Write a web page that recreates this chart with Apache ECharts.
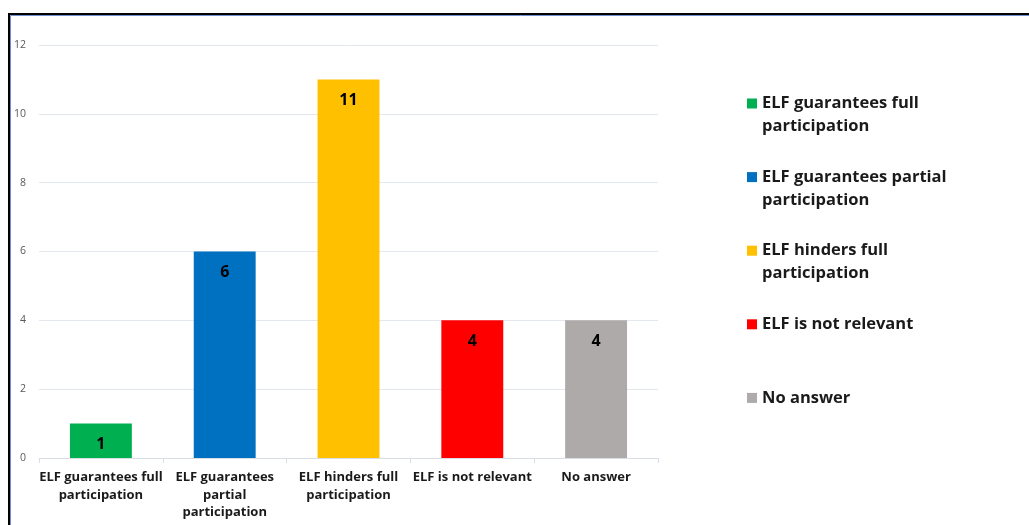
<!DOCTYPE html>
<html>
<head>
<meta charset="utf-8">
<script src="https://cdn.jsdelivr.net/npm/echarts@6/dist/echarts.min.js"></script>
<style>
  html, body { margin: 0; padding: 0; background: #ffffff; }
  #chart { width: 1029px; height: 525px; }
</style>
</head>
<body>
<div id="chart"></div>
<script>
// Survey answers: how the ELF affects participation
const categories = [
  'ELF guarantees full participation',
  'ELF guarantees partial participation',
  'ELF hinders full participation',
  'ELF is not relevant',
  'No answer'
];
const values = [1, 6, 11, 4, 4];
const colors = ['#00b050', '#0070c0', '#ffc000', '#ff0000', '#aeaaaa'];

// Wrapped text under the x axis
const axisLabels = [
  'ELF guarantees full\nparticipation',
  'ELF guarantees\npartial\nparticipation',
  'ELF hinders full\nparticipation',
  'ELF is not relevant',
  'No answer'
];
// Wrapped text in the legend
const legendLabels = [
  'ELF guarantees full\nparticipation',
  'ELF guarantees partial\nparticipation',
  'ELF hinders full\nparticipation',
  'ELF is not relevant',
  'No answer'
];
const yTicks = { min: 0, max: 12, interval: 2 };

const FONT = '"Open Sans", Lato, sans-serif';

// Legend text is centred on its swatch; pad every entry to three lines with a
// blank line on top so the swatch sits beside the first line of text.
function legendText(name) {
  const lines = legendLabels[categories.indexOf(name)].split('\n');
  while (lines.length < 2) lines.push(' ');
  return [' '].concat(lines).join('\n');
}

// One series per category so each gets a legend entry; they share the same slot.
const series = categories.map((name, i) => ({
  name: name,
  type: 'bar',
  barWidth: '50%',
  barGap: '-100%',
  itemStyle: { color: colors[i] },
  label: {
    show: true,
    position: 'insideTop',
    distance: 13,
    color: '#000000',
    fontFamily: FONT,
    fontWeight: 'bold',
    fontSize: 16
  },
  data: values.map((v, j) => (j === i ? v : '-'))
}));

const chart = echarts.init(document.getElementById('chart'), null, { renderer: 'canvas' });
chart.setOption({
  animation: false,
  backgroundColor: '#ffffff',
  graphic: [
    {
      type: 'rect',
      shape: { x: 9, y: 14, width: 1200, height: 700 },
      style: { fill: null, stroke: '#000000', lineWidth: 2 },
      silent: true
    },
    {
      type: 'rect',
      shape: { x: 10.5, y: 15.5, width: 1200, height: 700 },
      style: { fill: null, stroke: '#6f8fd0', lineWidth: 1 },
      silent: true
    }
  ],
  grid: { left: 39, right: 371, top: 45, bottom: 67, containLabel: false },
  legend: {
    orient: 'vertical',
    left: 747,
    top: 69,
    padding: 0,
    itemWidth: 10,
    itemHeight: 10,
    itemGap: 4.6,
    icon: 'rect',
    data: categories,
    formatter: legendText,
    textStyle: {
      color: '#1a1a1a',
      fontFamily: FONT,
      fontWeight: 'bold',
      fontSize: 16.5,
      lineHeight: 23
    }
  },
  xAxis: {
    type: 'category',
    data: categories,
    axisLine: { lineStyle: { color: '#d9dee7', width: 1 } },
    axisTick: { show: true, length: 5, lineStyle: { color: '#d9dee7' } },
    axisLabel: {
      interval: 0,
      margin: 11,
      formatter: (v, i) => axisLabels[i],
      color: '#1a1a1a',
      fontFamily: FONT,
      fontWeight: 'bold',
      fontSize: 13,
      lineHeight: 17.5
    }
  },
  yAxis: {
    type: 'value',
    min: yTicks.min,
    max: yTicks.max,
    interval: yTicks.interval,
    axisLine: { show: false },
    axisTick: { show: false },
    splitLine: { lineStyle: { color: '#e3e7ee', width: 1 } },
    axisLabel: {
      margin: 13,
      color: '#595959',
      fontFamily: FONT,
      fontSize: 10.5
    }
  },
  series: series
});
</script>
</body>
</html>
